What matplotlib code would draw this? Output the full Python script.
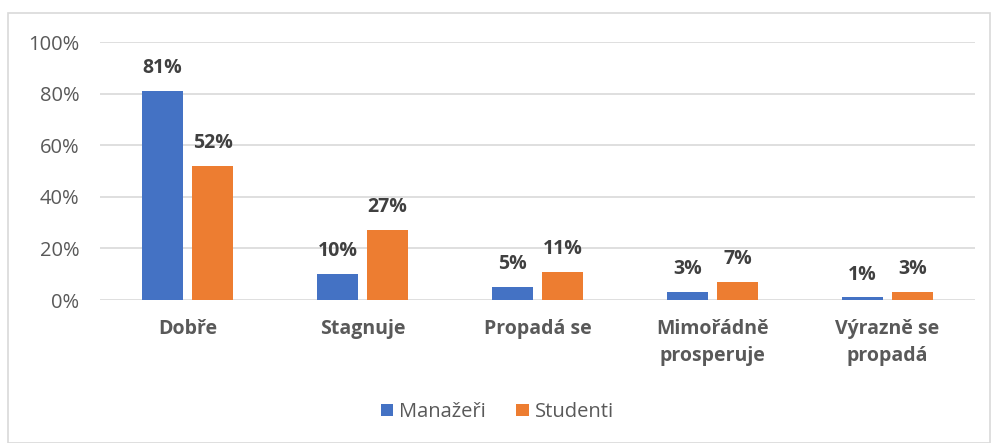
import matplotlib.pyplot as plt
import matplotlib.patches as mpatches
import numpy as np

plt.rcParams['font.family'] = ['Open Sans', 'DejaVu Sans']

categories = ['Dobře', 'Stagnuje', 'Propadá se', 'Mimořádně\nprosperuje', 'Výrazně se\npropadá']
manazeri = [81, 10, 5, 3, 1]
studenti = [52, 27, 11, 7, 3]
series_names = ['Manažeři', 'Studenti']
yticks = [0, 20, 40, 60, 80, 100]

blue = '#4472C4'
orange = '#ED7D31'
text_col = '#595959'
grid_col = '#D9D9D9'

W, H = 995, 443
fig = plt.figure(figsize=(W / 100, H / 100), dpi=100)
ax = fig.add_axes([100 / W, 1 - 300 / H, 875 / W, 258 / H])

# outer chart border
fig.patches.append(mpatches.Rectangle((8 / W, 0), 982 / W, 1 - 13 / H,
                                      transform=fig.transFigure, fill=False,
                                      edgecolor=grid_col, linewidth=1.2))

x = np.arange(len(categories))
w = 0.229
off = 0.143
b1 = ax.bar(x - off, manazeri, w, color=blue, label=series_names[0], zorder=3)
b2 = ax.bar(x + off, studenti, w, color=orange, label=series_names[1], zorder=3)

for bars, vals in ((b1, manazeri), (b2, studenti)):
    for b, v in zip(bars, vals):
        ax.text(b.get_x() + b.get_width() / 2, v + 5, f'{v}%', ha='center', va='bottom',
                fontsize=14, fontweight='bold', color='#404040')

ax.set_xlim(-0.5, len(categories) - 0.5)
ax.set_ylim(0, 100)
ax.set_yticks(yticks)
ax.set_yticklabels([f'{t}%' for t in yticks], fontsize=14.5, color=text_col)
ax.set_xticks(x)
ax.set_xticklabels(categories, fontsize=14, fontweight='bold', color=text_col, linespacing=1.45)
ax.tick_params(axis='both', length=0)
ax.tick_params(axis='y', pad=15)
ax.tick_params(axis='x', pad=14)
for s in ax.spines.values():
    s.set_visible(False)
ax.grid(axis='y', color=grid_col, linewidth=1.2, zorder=0)

fig.legend(handles=[b1, b2], labels=series_names, loc='center', bbox_to_anchor=(0.5, 1 - 412 / H),
           ncol=2, frameon=False, fontsize=14.5, labelcolor=text_col, handlelength=0.6,
           handleheight=0.6, handletextpad=0.3, columnspacing=1.5)

fig.savefig('out.png', dpi=100)
